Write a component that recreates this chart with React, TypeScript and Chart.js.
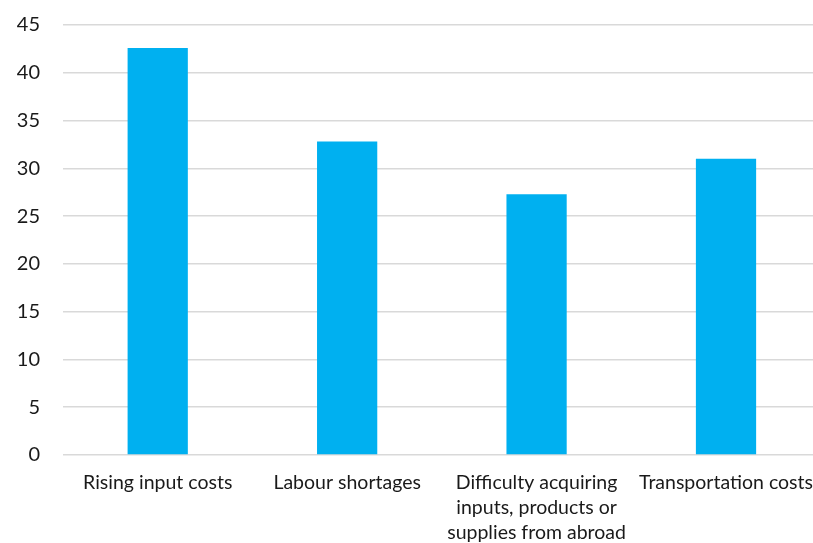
import React, { useEffect, useRef } from "react";
import { Chart, registerables } from "chart.js";

Chart.register(...registerables);

const categories: (string | string[])[] = [
  "Rising input costs",
  "Labour shortages",
  ["Difficulty acquiring", "inputs, products or", "supplies from abroad"],
  "Transportation costs",
];
const values: number[] = [42.6, 32.8, 27.3, 31.0];
const yMin = 0;
const yMax = 45;
const yStep = 5;

export default function App() {
  const ref = useRef<HTMLCanvasElement | null>(null);
  useEffect(() => {
    document.body.style.overflow = "hidden";
    const ctx = ref.current!;
    const chart = new Chart(ctx, {
      type: "bar",
      data: {
        labels: categories,
        datasets: [
          {
            data: values,
            backgroundColor: "#00B0F0",
            borderWidth: 0,
            barPercentage: 0.318,
            categoryPercentage: 1,
          },
        ],
      },
      options: {
        animation: false,
        responsive: false,
        maintainAspectRatio: false,
        layout: { padding: { top: 13, right: 0, left: 0, bottom: 0 } },
        plugins: { legend: { display: false }, tooltip: { enabled: false } },
        scales: {
          x: {
            grid: { display: false, drawTicks: false },
            border: { display: false },
            ticks: {
              color: "#1a1a1a",
              font: { family: "Lato", size: 19.5, lineHeight: 1.28 },
              padding: 15,
              maxRotation: 0,
              autoSkip: false,
            },
            afterFit: (s: any) => {
              s.height = 88;
            },
          },
          y: {
            min: yMin,
            max: yMax,
            grid: { color: "#d9d9d9", lineWidth: 1.5, drawTicks: false },
            border: { display: false },
            ticks: {
              stepSize: yStep,
              color: "#1a1a1a",
              font: { family: "Lato", size: 20 },
              padding: 23,
            },
            afterFit: (s: any) => {
              s.width = 63;
            },
          },
        },
      },
    });
    return () => chart.destroy();
  }, []);
  return (
    <div style={{ position: "fixed", left: 0, top: -10, width: 828, height: 553 }}>
      <canvas ref={ref} width={828} height={553} style={{ width: 828, height: 553 }} />
    </div>
  );
}
